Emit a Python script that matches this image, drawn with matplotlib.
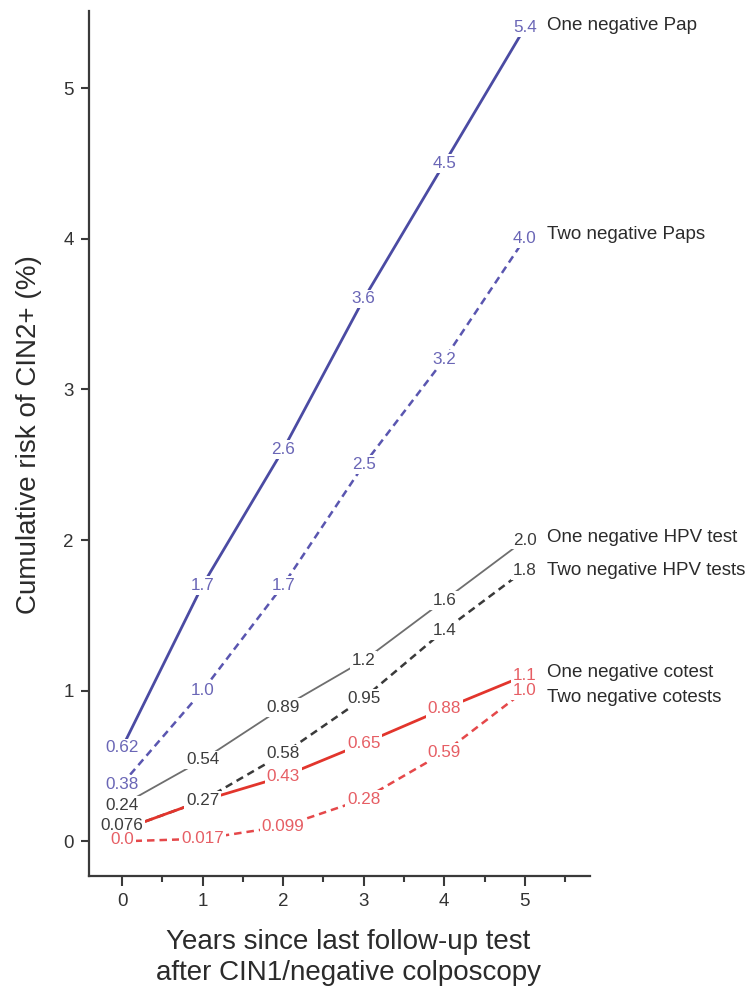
import matplotlib
matplotlib.use("Agg")
import matplotlib.pyplot as plt

plt.rcParams['font.family'] = ['Liberation Sans', 'DejaVu Sans']

years = [0, 1, 2, 3, 4, 5]

series_names = ["One negative Pap", "Two negative Paps",
                "One negative HPV test", "Two negative HPV tests",
                "One negative cotest", "Two negative cotests"]

pap_one = [0.62, 1.7, 2.6, 3.6, 4.5, 5.4]
pap_two = [0.38, 1.0, 1.7, 2.5, 3.2, 4.0]
hpv_one = [0.24, 0.54, 0.89, 1.2, 1.6, 2.0]
hpv_two = [0.076, 0.27, 0.58, 0.95, 1.4, 1.8]
cotest_one = [0.076, 0.27, 0.43, 0.65, 0.88, 1.1]
cotest_two = [0.0, 0.017, 0.099, 0.28, 0.59, 1.0]

pap_one_labels = ["0.62", "1.7", "2.6", "3.6", "4.5", "5.4"]
pap_two_labels = ["0.38", "1.0", "1.7", "2.5", "3.2", "4.0"]
hpv_one_labels = ["0.24", "0.54", "0.89", "1.2", "1.6", "2.0"]
hpv_two_labels = ["0.076", "0.27", "0.58", "0.95", "1.4", "1.8"]
cotest_one_labels = ["", "", "0.43", "0.65", "0.88", "1.1"]
cotest_two_labels = ["0.0", "0.017", "0.099", "0.28", "0.59", "1.0"]

x_ticks = [0, 1, 2, 3, 4, 5]
y_ticks = [0, 1, 2, 3, 4, 5]

DASH = (0, (3.0, 2.0))
series = [
    (pap_one, pap_one_labels, dict(color="#4b4ba3", lw=2.0, ls="-"), "#6a66b6", 0, 2),
    (pap_two, pap_two_labels, dict(color="#5a56b0", lw=1.8, ls=DASH), "#6a66b6", 0, 3),
    (hpv_one, hpv_one_labels, dict(color="#6e6e6e", lw=1.3, ls="-"), "#3c3c3c", 0, 2),
    (hpv_two, hpv_two_labels, dict(color="#3a3a3a", lw=1.8, ls=DASH), "#3c3c3c", 3, 0),
    (cotest_one, cotest_one_labels, dict(color="#e2352c", lw=2.0, ls="-"), "#e65e64", 0, 2),
    (cotest_two, cotest_two_labels, dict(color="#e5484a", lw=1.8, ls=DASH), "#e65e64", 1, -5),
]

fig = plt.figure(figsize=(7.49, 9.86), dpi=100)
ax = fig.add_axes([0.1188, 0.1116, 0.669, 0.877])

for vals, labs, style, lcol, first_dy, name_dy in series:
    ax.plot(years, vals, zorder=2, solid_capstyle='butt', dash_capstyle='butt', **style)
    for i, (x, v, t) in enumerate(zip(years, vals, labs)):
        if t:
            dy = first_dy if i == 0 else 0
            ax.annotate(t, xy=(x, v), xytext=(0, dy), textcoords="offset points",
                        ha="center", va="center", fontsize=12.3, color=lcol,
                        zorder=4,
                        bbox=dict(facecolor="white", edgecolor="none", pad=1.3))

for (vals, labs, style, lcol, first_dy, name_dy), name in zip(series, series_names):
    ax.annotate(name, xy=(years[-1], vals[-1]), xytext=(16, name_dy), textcoords="offset points",
                ha="left", va="center", fontsize=13.5, color="#2b2b2b",
                annotation_clip=False)

ax.set_xlim(-0.41, 5.81)
ax.set_ylim(-0.23, 5.51)
ax.set_xticks(x_ticks)
ax.set_xticks([0.5, 1.5, 2.5, 3.5, 4.5, 5.5], minor=True)
ax.set_yticks(y_ticks)

for side in ["top", "right"]:
    ax.spines[side].set_visible(False)
for side in ["left", "bottom"]:
    ax.spines[side].set_linewidth(1.6)
    ax.spines[side].set_color("#3a3a3a")

ax.tick_params(axis="x", which="major", direction="out", length=7, width=1.5,
               pad=5, labelsize=13.5, colors="#3a3a3a")
ax.tick_params(axis="x", which="minor", direction="out", length=4.5, width=1.5,
               colors="#3a3a3a")
ax.tick_params(axis="y", which="major", direction="out", length=6, width=1.5,
               pad=5, labelsize=13.5, colors="#3a3a3a")
for lab in ax.get_xticklabels() + ax.get_yticklabels():
    lab.set_color("#333333")

ax.set_xlabel("Years since last follow-up test\nafter CIN1/negative colposcopy",
              fontsize=20, color="#2b2b2b", linespacing=1.25)
ax.xaxis.set_label_coords(0.517, -0.0615)
ax.set_ylabel("Cumulative risk of CIN2+ (%)", fontsize=20, color="#2b2b2b")
ax.yaxis.set_label_coords(-0.094, 0.51)

fig.savefig("out.png", dpi=100)
